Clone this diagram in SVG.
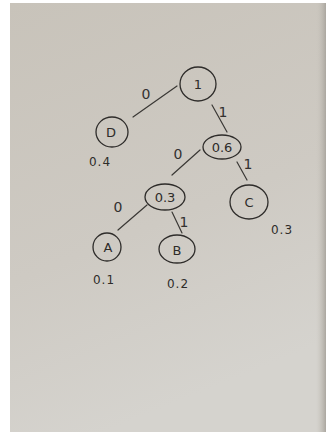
<svg xmlns="http://www.w3.org/2000/svg" width="328" height="435" viewBox="0 0 328 435">
<defs>
<linearGradient id="paper" x1="0" y1="0" x2="0.3" y2="1">
<stop offset="0" stop-color="#c8c3ba"/>
<stop offset="0.6" stop-color="#cecac3"/>
<stop offset="1" stop-color="#d5d3ce"/>
</linearGradient>
<linearGradient id="edge" x1="0" y1="0" x2="1" y2="0">
<stop offset="0" stop-color="#c9c5bd" stop-opacity="0"/>
<stop offset="1" stop-color="#aaa69f"/>
</linearGradient>
</defs>
<style>
.n{fill:none;stroke:#2e2c2a;stroke-width:1.3}
.e{stroke:#3a3835;stroke-width:1.2;stroke-linecap:round}
.t{font-family:"DejaVu Sans",sans-serif;fill:#2e2c2a;font-size:13px;text-anchor:middle}
.v{font-family:"DejaVu Sans",sans-serif;fill:#2e2c2a;font-size:12px;text-anchor:middle;letter-spacing:1px}
.w{font-family:"DejaVu Sans",sans-serif;fill:#333130;font-size:14px;text-anchor:middle}
</style>
<rect width="328" height="435" fill="#ffffff"/>
<rect x="10" y="3" width="316" height="429" fill="url(#paper)"/>
<rect x="316" y="3" width="10" height="429" fill="url(#edge)"/>
<g id="connectors">
<line class="e" x1="133" y1="117" x2="177" y2="86"/>
<line class="e" x1="212" y1="105" x2="227" y2="132"/>
<line class="e" x1="200" y1="150" x2="172" y2="175"/>
<line class="e" x1="237" y1="162" x2="247" y2="180"/>
<line class="e" x1="147" y1="205" x2="118" y2="230"/>
<line class="e" x1="172" y1="212" x2="182" y2="233"/>
<text class="w" x="146" y="99">0</text>
<text class="w" x="223" y="117">1</text>
<text class="w" x="178" y="159">0</text>
<text class="w" x="248" y="169">1</text>
<text class="w" x="118" y="212">0</text>
<text class="w" x="184" y="227">1</text>
</g>
<g id="n1"><ellipse class="n" cx="198" cy="84" rx="18" ry="17"/><text class="t" x="198" y="89">1</text></g>
<g id="nD"><ellipse class="n" cx="112" cy="132" rx="16" ry="15"/><text class="t" x="111" y="137">D</text><text class="v" x="100" y="166">0.4</text></g>
<g id="n06"><ellipse class="n" cx="222" cy="147" rx="19" ry="12"/><text class="t" x="222" y="152">0.6</text></g>
<g id="nC"><ellipse class="n" cx="249" cy="202" rx="19" ry="17"/><text class="t" x="249" y="207">C</text><text class="v" x="282" y="234">0.3</text></g>
<g id="n03"><ellipse class="n" cx="165" cy="197" rx="20" ry="13"/><text class="t" x="165" y="202">0.3</text></g>
<g id="nA"><ellipse class="n" cx="107" cy="247" rx="14" ry="14"/><text class="t" x="108" y="252">A</text><text class="v" x="104" y="284">0.1</text></g>
<g id="nB"><ellipse class="n" cx="177" cy="249" rx="18" ry="14"/><text class="t" x="177" y="255">B</text><text class="v" x="178" y="288">0.2</text></g>
</svg>
